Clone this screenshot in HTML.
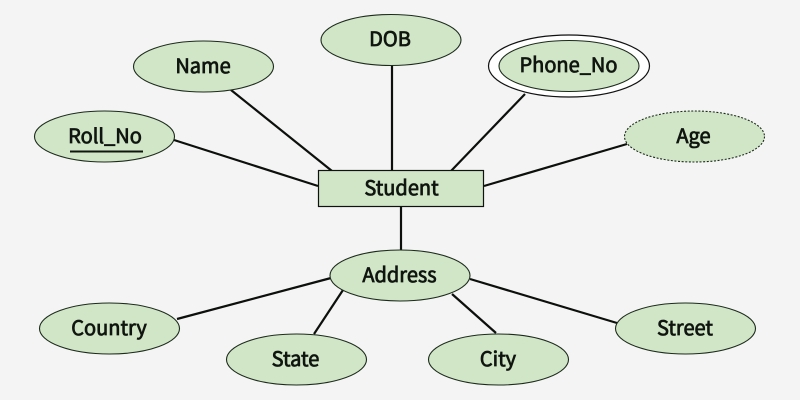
<!DOCTYPE html>
<html>
<head>
<meta charset="utf-8">
<style>
html,body{margin:0;padding:0;background:#f4f4f4}
svg{display:block}
text{font-family:"Noto Sans CJK SC","Liberation Sans",sans-serif;font-size:20px;font-weight:400;fill:#101510;text-anchor:middle;stroke:#101510;stroke-width:.75px}
.e{fill:#d0e6c6;stroke:#1c2a1c;stroke-width:1.1}
.l{stroke:#0c0f0c;stroke-width:2.2;fill:none}
</style>
</head>
<body>
<svg width="800" height="400" viewBox="0 0 800 400" xmlns="http://www.w3.org/2000/svg">
<rect width="800" height="400" fill="#f4f4f4"/>
<g class="l">
<line x1="231" y1="90" x2="332" y2="171"/>
<line x1="174" y1="140" x2="318" y2="186"/>
<line x1="392" y1="65" x2="392" y2="171"/>
<line x1="525" y1="94" x2="451" y2="171"/>
<line x1="627" y1="144" x2="484" y2="186"/>
<line x1="401" y1="206" x2="401" y2="250"/>
<line x1="331" y1="278" x2="177" y2="319"/>
<line x1="343" y1="290" x2="314" y2="334"/>
<line x1="452" y1="294" x2="496" y2="333"/>
<line x1="470" y1="279" x2="617" y2="323"/>
</g>
<ellipse class="e" cx="203.5" cy="66.5" rx="70" ry="25.5"/>
<ellipse class="e" cx="104.5" cy="136.5" rx="70" ry="25.5"/>
<ellipse class="e" cx="391" cy="40" rx="70" ry="25.5"/>
<ellipse cx="569" cy="66" rx="80.5" ry="31" fill="#fff" stroke="#111" stroke-width="1.2"/>
<ellipse class="e" cx="569" cy="66" rx="70" ry="25.5"/>
<ellipse cx="694.5" cy="136.5" rx="70" ry="25.5" fill="#d0e6c6" stroke="#1c2a1c" stroke-width="1.1" stroke-dasharray="2 1.6"/>
<rect x="318.5" y="170.5" width="165" height="36" fill="#d0e6c6" stroke="#111" stroke-width="1.2"/>
<ellipse class="e" cx="400" cy="275.5" rx="70" ry="25.5"/>
<ellipse class="e" cx="109.5" cy="328.5" rx="70" ry="25.5"/>
<ellipse class="e" cx="296.5" cy="359.5" rx="70" ry="25.5"/>
<ellipse class="e" cx="498.5" cy="359.5" rx="70" ry="25.5"/>
<ellipse class="e" cx="685.5" cy="328.5" rx="70" ry="25.5"/>
<line x1="70" y1="151.5" x2="143" y2="151.5" stroke="#101510" stroke-width="2"/>
<text x="203" y="73">Name</text>
<text x="105" y="143">Roll_No</text>
<text x="390" y="46">DOB</text>
<text x="568.5" y="72">Phone_No</text>
<text x="693.5" y="143">Age</text>
<text x="401.5" y="195">Student</text>
<text x="399.5" y="282">Address</text>
<text x="109" y="335">Country</text>
<text x="295.5" y="366">State</text>
<text x="498" y="366">City</text>
<text x="685" y="335">Street</text>
</svg>
</body>
</html>
